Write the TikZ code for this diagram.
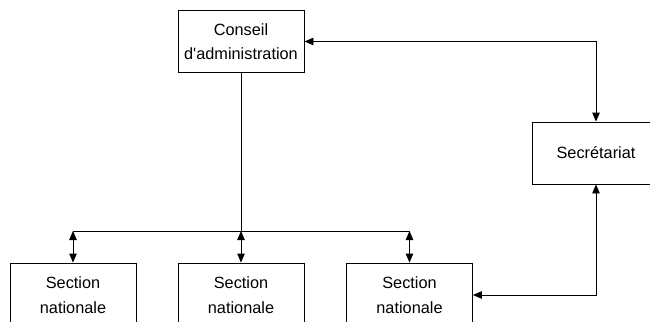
\documentclass[tikz,border=0pt]{standalone}
\usepackage{fontspec}
\setmainfont{Liberation Sans}[Ligatures=TeXOff]
\usetikzlibrary{arrows.meta}
\begin{document}
\begin{tikzpicture}[x=1pt,y=-1pt,
  box/.style={draw,line width=0.9pt,minimum width=126pt,minimum height=62pt,align=center,inner sep=0pt,font=\fontsize{16.3}{24.5}\selectfont},
  conn/.style={line width=0.9pt},
  both/.style={conn,{Triangle[length=9pt,width=7.5pt]}-{Triangle[length=9pt,width=7.5pt]}}]
\clip (0,0) rectangle (650,321);
\node[box] (ca) at (241,41.5) {Conseil\\d'administration};
\node[box,minimum width=128pt] (sec) at (596,153) {Secrétariat};
\node[box,minimum height=64pt] (s1) at (73,295) {Section\\nationale};
\node[box,minimum height=64pt] (s2) at (241,295) {Section\\nationale};
\node[box,minimum height=64pt] (s3) at (409.5,295) {Section\\nationale};
\coordinate (bus) at (241,231);
\coordinate (b1) at (73,231);
\coordinate (b3) at (409.5,231);
\coordinate (tr) at (596,41.5);
\coordinate (br) at (596,295);
\draw[conn] (ca.south) -- (bus);
\draw[conn] (b1) -- (b3);
\draw[both] (b1) -- (s1.north);
\draw[both] (bus) -- (s2.north);
\draw[both] (b3) -- (s3.north);
\draw[both] (ca.east) -- (tr) -- (sec.north);
\draw[both] (sec.south) -- (br) -- (s3.east);
\end{tikzpicture}
\end{document}
